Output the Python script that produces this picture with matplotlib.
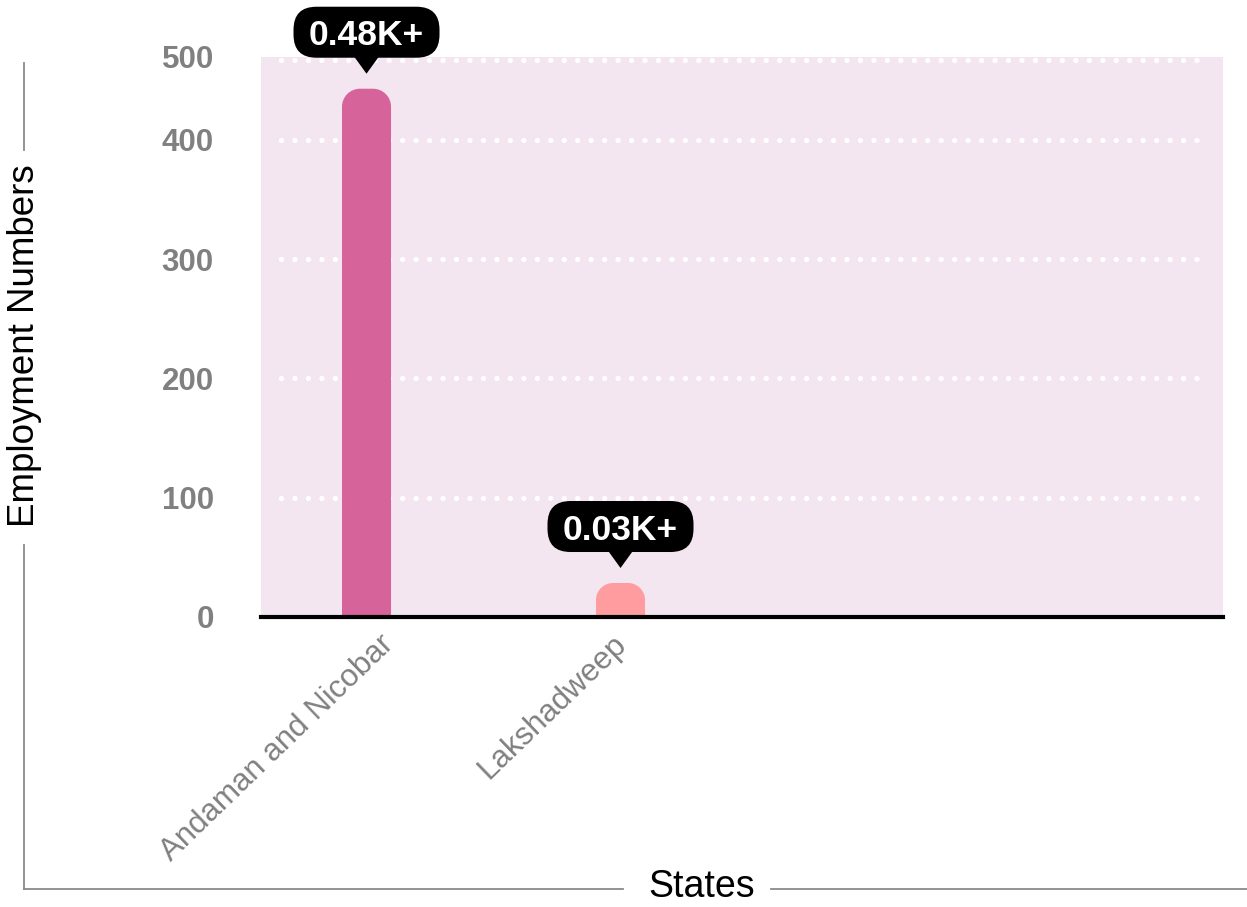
import matplotlib
matplotlib.use("Agg")
import matplotlib.pyplot as plt
import matplotlib.transforms as mtransforms
from matplotlib.patches import FancyBboxPatch, Polygon, PathPatch
from matplotlib.path import Path
from matplotlib.lines import Line2D

# ---- data ----
states = ["Andaman and Nicobar", "Lakshadweep"]
employment = [443, 28.5]
value_labels = ["0.48K+", "0.03K+"]
bar_colors = ["#d6649b", "#fe9c9f"]
ytick_values = [0, 100, 200, 300, 400, 469.6]
ytick_labels = ["0", "100", "200", "300", "400", "500"]
grid_values = [100, 200, 300, 400, 467]

plt.rcParams["font.family"] = ["Liberation Sans", "DejaVu Sans"]

W, H = 1247, 907
fig = plt.figure(figsize=(W / 100, H / 100), dpi=100)
fig.patch.set_facecolor("white")

left, right, top, bottom = 261, 1223, 57, 617
ax = fig.add_axes([left / W, 1 - bottom / H, (right - left) / W, (bottom - top) / H])
ax.set_facecolor("#f4e6f1")
for s in ax.spines.values():
    s.set_visible(False)

x = list(range(len(states)))
ax.set_xlim(-0.4154, 3.372)
ax.set_ylim(0, 469.6)

# grid lines (white dots)
for gv in grid_values:
    ax.plot([0.0208, 0.983], [gv, gv], transform=ax.get_yaxis_transform(),
            color="white", lw=3.8, linestyle=(0, (0.001, 2.55)),
            dash_capstyle="round", zorder=1)

# bars with rounded tops
bars = ax.bar(x, employment, width=0.193, color=bar_colors, zorder=2)
for rect, col in zip(bars, bar_colors):
    x0, y0 = rect.get_x(), rect.get_y()
    x1, y1 = x0 + rect.get_width(), y0 + rect.get_height()
    (dx0, dy0), (dx1, dy1) = ax.transData.transform([(x0, y0), (x1, y1)])
    r = min(18, (dy1 - dy0) / 2, (dx1 - dx0) / 2)
    k = 0.5523 * r
    verts = [(dx0, dy0), (dx0, dy1 - r),
             (dx0, dy1 - r + k), (dx0 + r - k, dy1), (dx0 + r, dy1),
             (dx1 - r, dy1),
             (dx1 - r + k, dy1), (dx1, dy1 - r + k), (dx1, dy1 - r),
             (dx1, dy0), (dx0, dy0)]
    codes = [Path.MOVETO, Path.LINETO,
             Path.CURVE4, Path.CURVE4, Path.CURVE4,
             Path.LINETO,
             Path.CURVE4, Path.CURVE4, Path.CURVE4,
             Path.LINETO, Path.CLOSEPOLY]
    rect.set_visible(False)
    pp = PathPatch(Path(verts, codes), facecolor=col, edgecolor="none",
                   transform=mtransforms.IdentityTransform(), zorder=2)
    ax.add_artist(pp)

# zero line
ax.axhline(0, color="black", lw=3, zorder=3, clip_on=False)

# tooltips
for xi, v, lab in zip(x, employment, value_labels):
    tr = fig.dpi_scale_trans + mtransforms.ScaledTranslation(xi, v, ax.transData)
    gap, tri_h, tri_w = 0.15, 0.16, 0.26
    bw, bh = 1.46, 0.51
    base = gap + tri_h
    tri = Polygon([(0, gap), (-tri_w / 2, base + 0.02), (tri_w / 2, base + 0.02)],
                  closed=True, facecolor="black", edgecolor="none",
                  transform=tr, clip_on=False, zorder=5)
    ax.add_artist(tri)
    box = FancyBboxPatch((-bw / 2, base), bw, bh,
                         boxstyle="round,pad=0,rounding_size=0.23",
                         facecolor="black", edgecolor="none",
                         transform=tr, clip_on=False, zorder=5)
    ax.add_artist(box)
    ax.text(0, base + bh / 2, lab, transform=tr, ha="center", va="center_baseline",
            color="white", fontsize=25.5, fontweight="bold", zorder=6, clip_on=False)

# ticks
ax.set_yticks(ytick_values)
ax.set_yticklabels(ytick_labels)
ax.tick_params(axis="y", length=0, pad=34, labelsize=22.5, labelcolor="#808080")
for t in ax.get_yticklabels():
    t.set_fontweight("bold")

ax.set_xticks(x)
ax.set_xticklabels(states)
ax.tick_params(axis="x", length=0, pad=9, labelsize=22.5, labelcolor="#808080")
label_nudges = [0.12, -0.09]  # inches, horizontal nudge of each rotated label
for t, nx in zip(ax.get_xticklabels(), label_nudges):
    t.set_rotation(44)
    t.set_ha("right")
    t.set_rotation_mode("anchor")
    t.set_transform(t.get_transform() +
                    mtransforms.ScaledTranslation(nx, 0, fig.dpi_scale_trans))

# axis titles with frame lines
gray = "#8a8a8a"
def fx(px):
    return px / W
def fy(py):
    return 1 - py / H

fig.add_artist(Line2D([fx(24), fx(24)], [fy(63), fy(150)], color=gray, lw=1.3))
fig.add_artist(Line2D([fx(24), fx(24)], [fy(545), fy(889)], color=gray, lw=1.3))
fig.add_artist(Line2D([fx(24), fx(623)], [fy(889), fy(889)], color=gray, lw=1.3))
fig.add_artist(Line2D([fx(771), fx(1247)], [fy(889), fy(889)], color=gray, lw=1.3))
fig.text(fx(25), fy(346), "Employment Numbers", rotation=90, ha="center", va="center",
         fontsize=26.5, color="black")
fig.text(fx(702), fy(887), "States", ha="center", va="center", fontsize=27, color="black")

fig.savefig("out.png", dpi=100)
